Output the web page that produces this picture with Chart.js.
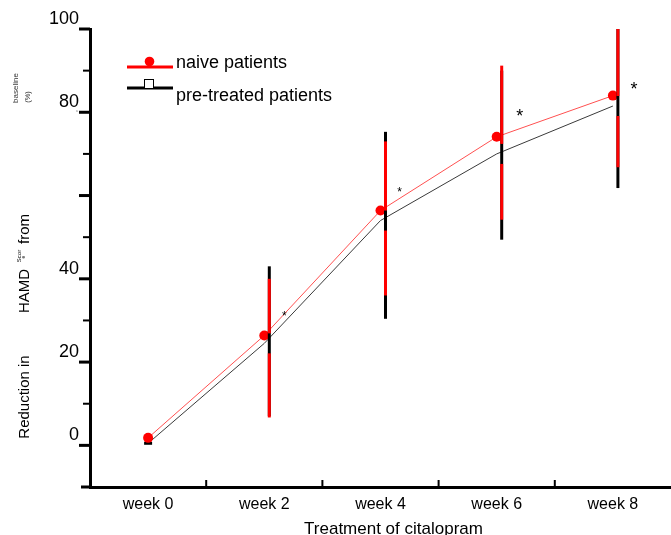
<!DOCTYPE html>
<html>
<head>
<meta charset="utf-8">
<script src="https://cdn.jsdelivr.net/npm/chart.js@4.4.1/dist/chart.umd.min.js"></script>
<style>
  html, body { margin: 0; padding: 0; background: #fff; }
  #wrap { width: 671px; height: 535px; }
</style>
</head>
<body>
<div id="wrap"><canvas id="myChart" width="671" height="535"></canvas></div>
<script>
const FONT = "'Liberation Sans', Arial, sans-serif";

// data (% reduction in HAMD score from baseline)
const weeks = ['week 0', 'week 2', 'week 4', 'week 6', 'week 8'];
const naiveMean = [1.8, 26.4, 56.4, 74.1, 84.0];
const naiveLow = [1.8, 6.7, 36.0, 54.2, 66.8];
const naiveHigh = [1.8, 40.0, 73.0, 91.2, 100];
const preMean = [0.5, 24.5, 54.0, 70.0, 81.5];
const preLow = [0.5, 7.0, 30.4, 49.4, 61.8];
const preHigh = [0.5, 43.0, 75.3, 90.0, 100];
const signif = ['', '*', '*', '*', '*'];
const yLabelValues = [0, 20, 40, 80, 100];

const RED = '#ff0000';
const BAR_DX = 5;     // error bars sit a little right of the points
const BAR_GAP = 10;   // red bar is broken around the pre-treated mean
// asterisk placement relative to the naive point: [dx, dy, font size]
const STAR_STYLE = [[0, 0, 0], [20, -22, 12], [19, -21, 12], [23, -25, 18], [21, -11, 18]];

function seg(ctx, x1, y1, x2, y2) {
  ctx.beginPath();
  ctx.moveTo(x1, y1);
  ctx.lineTo(x2, y2);
  ctx.stroke();
}

function vText(ctx, str, cx, cy, size, color) {
  ctx.save();
  ctx.translate(cx, cy);
  ctx.rotate(-Math.PI / 2);
  ctx.font = size + 'px ' + FONT;
  ctx.fillStyle = color || '#000';
  ctx.textAlign = 'center';
  ctx.textBaseline = 'middle';
  ctx.fillText(str, 0, 0);
  ctx.restore();
}

const errorBars = {
  id: 'errorBars',
  afterDatasetsDraw(chart) {
    const {ctx, scales: {x, y}} = chart;
    ctx.save();
    ctx.lineWidth = 3;
    for (let i = 0; i < weeks.length; i++) {
      if (naiveHigh[i] === naiveLow[i]) continue;
      const px = x.getPixelForValue(i) + BAR_DX;
      ctx.strokeStyle = '#000';
      seg(ctx, px, y.getPixelForValue(preHigh[i]), px, y.getPixelForValue(preLow[i]));
      const mid = y.getPixelForValue(preMean[i]);
      ctx.strokeStyle = RED;
      seg(ctx, px, y.getPixelForValue(naiveHigh[i]), px, mid - BAR_GAP);
      seg(ctx, px, mid + BAR_GAP, px, y.getPixelForValue(naiveLow[i]));
    }
    ctx.restore();
  }
};

const decorations = {
  id: 'decorations',
  afterDraw(chart) {
    const {ctx, chartArea: area, scales: {x, y}} = chart;
    ctx.save();

    // y tick marks, long on the labelled steps
    ctx.strokeStyle = '#000';
    y.ticks.forEach(t => {
      if (t.value <= -10) return;
      const py = y.getPixelForValue(t.value);
      const major = t.value % 20 === 0;
      ctx.lineWidth = major ? 3 : 2;
      seg(ctx, area.left, py, area.left - (major ? 11 : 7), py);
    });

    // x axis: small inward ticks between categories + overhang at left
    ctx.lineWidth = 2;
    for (let i = 0; i < weeks.length - 1; i++) {
      const px = (x.getPixelForValue(i) + x.getPixelForValue(i + 1)) / 2;
      seg(ctx, px, area.bottom, px, area.bottom - 7);
    }
    ctx.lineWidth = 3;
    seg(ctx, area.left - 9, area.bottom, area.left, area.bottom);

    // significance asterisks
    ctx.fillStyle = '#000';
    ctx.textAlign = 'center';
    ctx.textBaseline = 'alphabetic';
    signif.forEach((s, i) => {
      if (!s) return;
      const [dx, dy, size] = STAR_STYLE[i];
      ctx.font = size + 'px ' + FONT;
      ctx.fillText(s, x.getPixelForValue(i) + dx, y.getPixelForValue(naiveMean[i]) + dy + 0.58 * size);
    });

    // legend
    const ds = chart.data.datasets;
    ctx.lineWidth = 3;
    ctx.strokeStyle = RED;
    seg(ctx, 127, 67, 173, 67);
    ctx.fillStyle = RED;
    ctx.beginPath();
    ctx.arc(149.5, 61.5, 4.8, 0, Math.PI * 2);
    ctx.fill();
    ctx.strokeStyle = '#000';
    seg(ctx, 127, 88, 173, 88);
    ctx.fillStyle = '#fff';
    ctx.fillRect(144.5, 79.5, 9, 9);
    ctx.lineWidth = 1;
    ctx.strokeRect(144.5, 79.5, 9, 9);
    ctx.fillStyle = '#000';
    ctx.font = '18px ' + FONT;
    ctx.textAlign = 'left';
    ctx.fillText(ds[0].label, 176, 68);
    ctx.fillText(ds[1].label, 176, 101);

    // x axis title
    ctx.font = '17px ' + FONT;
    ctx.textAlign = 'center';
    ctx.fillText('Treatment of citalopram', (area.left + area.right) / 2 + 13, 534);

    // y axis title, pieced together as in the original
    vText(ctx, 'Reduction in', 25, 397, 15);
    vText(ctx, 'HAMD', 25, 291, 15);
    vText(ctx, 'Scor', 19, 256, 6);
    vText(ctx, 'e', 24, 257, 5);
    vText(ctx, 'from', 25, 229, 15);
    vText(ctx, 'baseline', 15.5, 88, 8, '#333');
    vText(ctx, '(%)', 28, 97, 7.5, '#333');
    vText(ctx, 'e', 77, 111, 4, '#888');

    ctx.restore();
  }
};

const ctx = document.getElementById('myChart');
const myChart = new Chart(ctx, {
  type: 'line',
  data: {
    labels: weeks,
    datasets: [
      {
        label: 'naive patients',
        data: naiveMean,
        borderColor: '#ff5050',
        borderWidth: 1,
        pointStyle: 'circle',
        pointRadius: 5,
        pointBackgroundColor: RED,
        pointBorderColor: RED,
        pointBorderWidth: 0,
        tension: 0
      },
      {
        label: 'pre-treated patients',
        data: preMean,
        borderColor: '#3a3a3a',
        borderWidth: 1,
        pointStyle: 'line',
        pointRadius: [4, 0, 0, 0, 0],
        pointBorderColor: '#000',
        pointBorderWidth: 3,
        tension: 0
      }
    ]
  },
  options: {
    responsive: false,
    animation: false,
    layout: { autoPadding: false, padding: { top: 29, left: 0, right: 0, bottom: 0 } },
    plugins: {
      legend: { display: false },
      tooltip: { enabled: false }
    },
    scales: {
      x: {
        offset: true,
        grid: { drawOnChartArea: false, drawTicks: false, offset: true },
        border: { display: true, color: '#000', width: 3 },
        ticks: {
          color: '#000',
          font: { family: FONT, size: 16 },
          padding: 8,
          maxRotation: 0,
          autoSkip: false
        },
        afterFit(scale) {
          scale.height = 48;
          scale.paddingLeft = 0;
          scale.paddingRight = 0;
        }
      },
      y: {
        min: -10,
        max: 100,
        grid: { drawOnChartArea: false, drawTicks: false },
        border: { display: true, color: '#000', width: 3 },
        ticks: {
          stepSize: 10,
          color: '#000',
          font: { family: FONT, size: 18 },
          padding: 11,
          labelOffset: -10,
          callback: v => yLabelValues.includes(v) ? String(v) : ''
        },
        afterFit(scale) { scale.width = 90; }
      }
    }
  },
  plugins: [errorBars, decorations]
});
</script>
</body>
</html>
